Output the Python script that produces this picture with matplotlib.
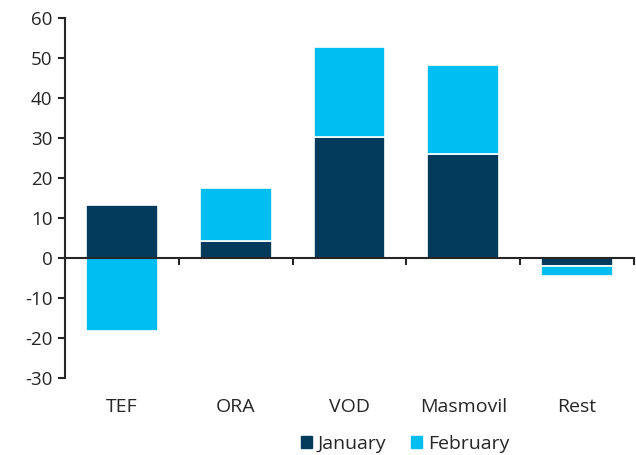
import numpy as np
import matplotlib.pyplot as plt
import matplotlib.transforms as mtransforms
from matplotlib.patches import Patch

plt.rcParams['font.family'] = ['Open Sans', 'DejaVu Sans']
plt.rcParams['axes.unicode_minus'] = False

# data
categories = ['TEF', 'ORA', 'VOD', 'Masmovil', 'Rest']
january = [13.3, 4.2, 30.3, 26.0, -2.1]
february = [-18.3, 13.3, 22.4, 22.2, -2.5]

c_jan = '#023a5c'
c_feb = '#00bef2'
txt = '#262626'

fig = plt.figure(figsize=(6.36, 4.55), dpi=100)
ax = fig.add_axes([65/636, 77/455, 569/636, 360/455])

x = np.arange(len(categories))
jan = np.array(january)
feb = np.array(february)
# stack february on january when same sign, otherwise start at zero
base = np.where(np.sign(feb) == np.sign(jan), jan, 0)

w = 0.63
ax.bar(x, jan, width=w, color=c_jan, edgecolor='white', linewidth=1.2, label='January')
ax.bar(x, feb, width=w, bottom=base, color=c_feb, edgecolor='white', linewidth=1.2,
       label='February')

ax.set_xlim(-0.5, len(categories) - 0.5)
ax.set_ylim(-30, 60)
ax.set_yticks(np.arange(-30, 61, 10))
ax.set_xticks(x + 0.5)
ax.set_xticklabels([])

for s in ['top', 'right']:
    ax.spines[s].set_visible(False)
ax.spines['bottom'].set_position(('data', 0))
for s in ['left', 'bottom']:
    ax.spines[s].set_color(txt)
    ax.spines[s].set_linewidth(1.5)
ax.tick_params(axis='y', direction='out', length=5, width=1.5, color=txt,
               labelsize=13.5, labelcolor=txt, pad=4)
ax.tick_params(axis='x', direction='out', length=5, width=1.5, color=txt)

trans = mtransforms.blended_transform_factory(ax.transData, fig.transFigure)
for xi, name in zip(x, categories):
    ax.text(xi, 1 - 407/455, name, transform=trans, ha='center', va='center',
            fontsize=14, color=txt)

handles = [Patch(color=c_jan), Patch(color=c_feb)]
fig.legend(handles, ['January', 'February'], loc='center',
           bbox_to_anchor=(405/636, 1 - 444/455), ncol=2, frameon=False,
           fontsize=14, handlelength=0.55, handleheight=0.55, handletextpad=0.3,
           columnspacing=1.3, labelcolor=txt)

fig.savefig('out.png', dpi=100)
